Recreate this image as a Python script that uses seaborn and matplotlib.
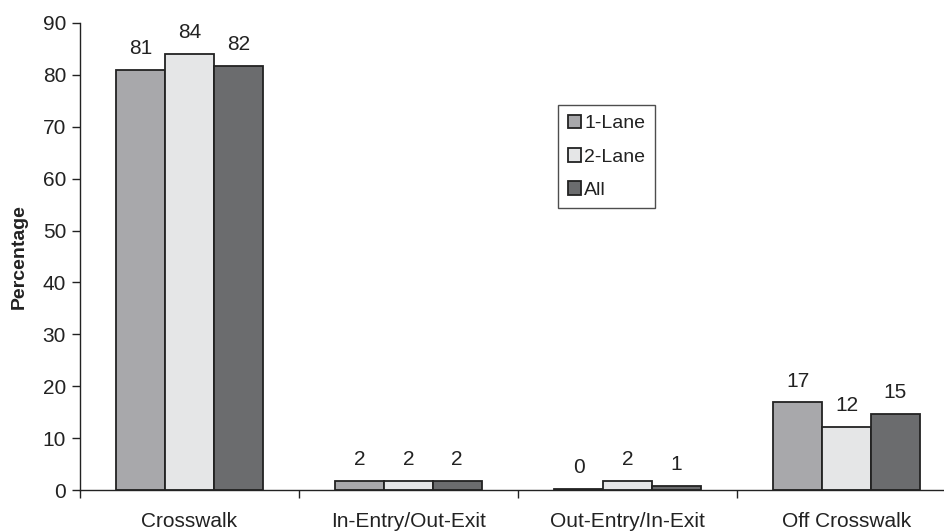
import pandas as pd
import matplotlib
matplotlib.use("Agg")
import matplotlib.pyplot as plt
import seaborn as sns

# chart data
locations = ["Crosswalk", "In-Entry/Out-Exit", "Out-Entry/In-Exit", "Off Crosswalk"]
lane_types = ["1-Lane", "2-Lane", "All"]
one_lane = [80.9, 1.8, 0.25, 16.9]
two_lane = [84.1, 1.8, 1.8, 12.1]
all_lanes = [81.8, 1.8, 0.8, 14.6]
bar_colors = ["#a7a8ab", "#e5e6e7", "#6b6c6e"]

rows = []
for lane, vals in zip(lane_types, [one_lane, two_lane, all_lanes]):
    for loc, v in zip(locations, vals):
        rows.append({"Location": loc, "Type": lane, "Percentage": v})
df = pd.DataFrame(rows)

sns.set_style("ticks")
plt.rcParams['font.family'] = ['Liberation Sans', 'DejaVu Sans']

fig = plt.figure(figsize=(9.44, 5.31), dpi=100)
ax = fig.add_axes([80 / 944, 41 / 531, 876 / 944, 467 / 531])

sns.barplot(data=df, x="Location", y="Percentage", hue="Type", order=locations,
            hue_order=lane_types, palette=bar_colors, width=0.667, gap=0,
            edgecolor="#222222", linewidth=1.3, ax=ax)

# value labels on top of bars
for cont in ax.containers:
    ax.bar_label(cont, fmt="%.0f", padding=8.5, fontsize=15, color="#222222")

ax.set_ylim(0, 90)
ax.set_xlim(-0.5, 3.5)
ax.set_yticks(range(0, 91, 10))
ax.tick_params(axis="y", labelsize=15, length=6, width=1, color="#222222",
               labelcolor="#222222", pad=4)

# ticks at group boundaries, labels at group centers
ax.set_xticks([-0.5, 0.5, 1.5, 2.5, 3.5])
ax.set_xticklabels([])
ax.set_xticks(range(len(locations)), minor=True)
ax.set_xticklabels(locations, minor=True)
ax.tick_params(axis="x", which="major", length=6, width=1, color="#222222")
ax.tick_params(axis="x", which="minor", length=0, labelsize=15,
               labelcolor="#222222", pad=15.5)

ax.set_xlabel("")
ax.set_ylabel("Percentage", fontsize=14, fontweight="bold", color="#222222", labelpad=11)

sns.despine(ax=ax)
for side in ["left", "bottom"]:
    ax.spines[side].set_color("#222222")
    ax.spines[side].set_linewidth(1)

leg = ax.legend(loc="upper left", bbox_to_anchor=(558 / 944, 1 - 105 / 531),
                bbox_transform=fig.transFigure, frameon=True, fancybox=False,
                fontsize=14, handlelength=0.7, handleheight=0.7,
                handletextpad=0.15, labelspacing=0.8, borderpad=0.5,
                borderaxespad=0)
leg.get_frame().set_edgecolor("#222222")
leg.get_frame().set_linewidth(1)
for t in leg.get_texts():
    t.set_color("#222222")

fig.savefig("out.png", dpi=100)
